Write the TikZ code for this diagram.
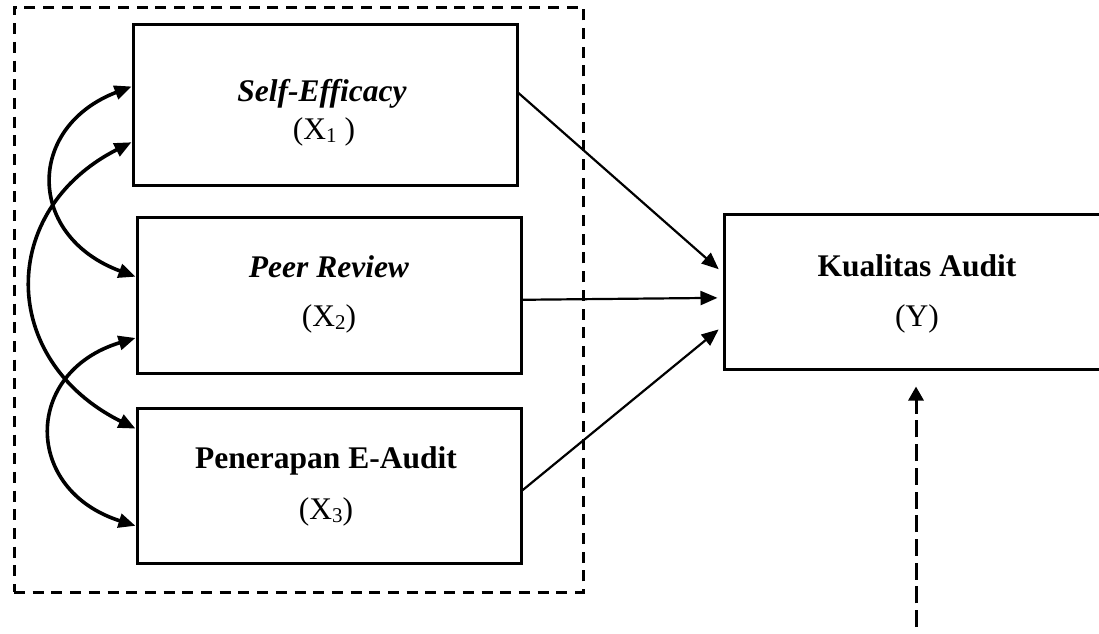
\documentclass[tikz,border=0pt]{standalone}
\usepackage{fontspec}
\setmainfont{Liberation Serif}
\usetikzlibrary{arrows.meta,calc}
\newcommand\sbs[1]{\raisebox{-3pt}{\fontsize{21}{21}\selectfont #1}}
\begin{document}
\begin{tikzpicture}[x=1pt,y=-1pt,
  box/.style={draw, line width=3pt, inner sep=0pt, minimum width=384pt},
  grp/.style={draw, line width=3pt, dash pattern=on 11pt off 7.7pt, inner sep=0pt},
  txt/.style={anchor=base, inner sep=0pt, font=\fontsize{31.5}{36}\selectfont},
  arr/.style={line width=2.2pt, -{Triangle[length=17pt,width=14pt]}, shorten >=5pt},
  curv/.style={line width=3.6pt, {Triangle[length=17pt,width=14pt]}-{Triangle[length=17pt,width=14pt]}},
  darr/.style={line width=3pt, dash pattern=on 17pt off 6.7pt, -{Triangle[length=14pt,width=15pt]}}
]
\useasboundingbox (0,0) rectangle (1099,633);
% group frame
\node[grp, minimum width=569pt, minimum height=585pt] (grp) at (298.5,299.5) {};
% boxes
\node[box, minimum height=161pt] (x1) at (325,104.5) {};
\node[box, minimum height=156pt] (x2) at (329,295) {};
\node[box, minimum height=155pt] (x3) at (329,485.5) {};
\node[box, minimum height=155pt] (y) at (916,291.5) {};
% texts
\node[txt] (t1a) at (322,101) {\textbf{\textit{Self-Efficacy}}};
\node[txt] (t1b) at (324,139) {(X\sbs{1} )};
\node[txt] (t2a) at (329,277) {\textbf{\textit{Peer Review}}};
\node[txt] (t2b) at (329,326) {(X\sbs{2})};
\node[txt] (t3a) at (326,468) {\textbf{Penerapan E-Audit}};
\node[txt] (t3b) at (326,519) {(X\sbs{3})};
\node[txt] (tya) at (917,276) {\textbf{Kualitas Audit}};
\node[txt] (tyb) at (917,326) {(Y)};
% straight arrows
\draw[arr] ($(x1.north east)!0.43!(x1.south east)$) -- ($(y.north west)!0.38!(y.south west)$);
\draw[arr] ($(x2.north east)!0.53!(x2.south east)$) -- ($(y.north west)!0.54!(y.south west)$);
\draw[arr] ($(x3.north east)!0.53!(x3.south east)$) -- ($(y.north west)!0.72!(y.south west)$);
% curved correlations
\draw[curv] ($(x1.north west)!0.39!(x1.south west)$) .. controls (26,127) and (26,236) .. ($(x2.north west)!0.385!(x2.south west)$);
\draw[curv] ($(x1.north west)!0.73!(x1.south west)$) .. controls (-2,210) and (-2,360) .. ($(x3.north west)!0.14!(x3.south west)$);
\draw[curv] ($(x2.north west)!0.77!(x2.south west)$) .. controls (23,372) and (23,490) .. ($(x3.north west)!0.755!(x3.south west)$);
% dashed arrow from below
\coordinate (ybot) at (916,627);
\draw[darr] (ybot) -- ($(y.south)+(0,16)$);
\end{tikzpicture}
\end{document}
